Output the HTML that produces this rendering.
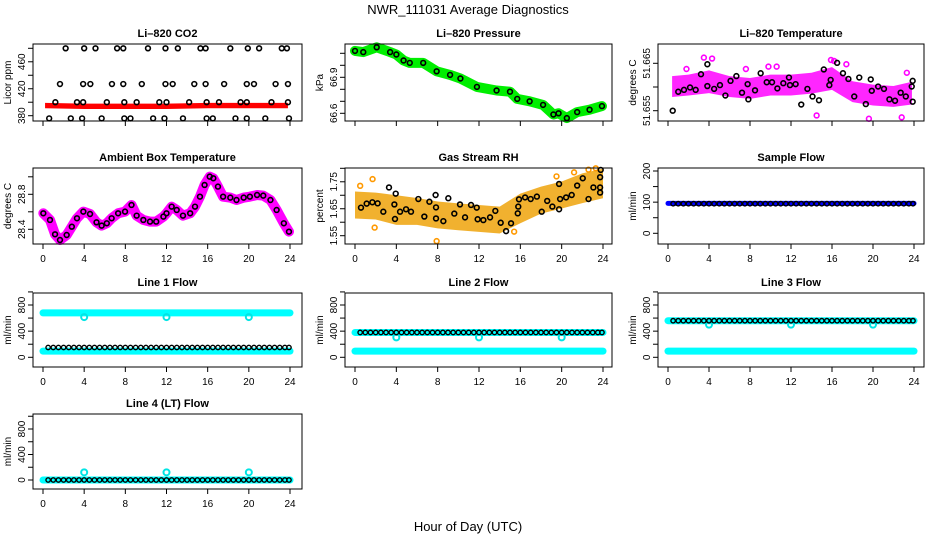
<!DOCTYPE html>
<html><head><meta charset="utf-8"><style>
body{margin:0;background:#fff;}
svg{display:block;font-family:"Liberation Sans",sans-serif;}
</style></head><body>
<svg id="chart" width="936" height="540" viewBox="0 0 936 540" xmlns="http://www.w3.org/2000/svg">
<text x="468" y="14" text-anchor="middle" font-size="13">NWR_111031  Average Diagnostics</text>
<text x="468" y="531" text-anchor="middle" font-size="13">Hour of Day (UTC)</text>
</svg>
<script>
// ---- data ----
const xTicks = [0,4,8,12,16,20,24];
const co2Hours480 = [2.2,4.0,5.1,7.2,7.8,10.2,11.9,13.1,15.3,15.8,18.2,19.9,21.0,23.2,23.7];
const co2Hours427 = [1.65,3.9,4.6,6.7,7.8,9.6,11.9,12.6,14.7,15.8,17.6,19.8,20.5,22.6,23.8];
const co2Hours400 = [1.2,3.3,3.9,6.2,7.9,9.1,11.3,12.0,14.2,15.9,17.1,19.2,19.8,22.2,23.8];
const co2Hours376 = [0.6,2.7,3.8,5.7,7.9,8.5,10.7,11.8,13.6,15.9,16.5,18.7,19.8,21.6,23.9];
const co2Levels = [480,427,400,376];
const co2RedHours = [0.2,4,8,12,16,20,23.8];
const co2RedLow = [391,390,390,390,391,391,391];
const co2RedHigh = [399,398,398,398,399,399,399];

const presHours = [0,0.8,2.1,3.4,4.0,4.7,5.3,6.6,7.9,9.2,10.2,11.8,13.7,15.0,15.7,16.9,18.2,19.2,19.7,20.5,21.5,22.7,23.9];
const presVals = [67.12,67.11,67.15,67.11,67.09,67.04,67.02,67.02,66.95,66.92,66.89,66.82,66.79,66.78,66.72,66.70,66.67,66.59,66.60,66.56,66.61,66.63,66.66];

const tempBandHours = [0.4,2,4,6,8,10,12,14,16,18,20,22,23.8];
const tempBandMid = [51.6601,51.6604,51.6611,51.6601,51.6597,51.6604,51.6604,51.6608,51.6618,51.6590,51.6583,51.6580,51.6587];
const tempBandHalf = [0.0022,0.0022,0.0024,0.0022,0.0022,0.0022,0.0022,0.0022,0.0024,0.0022,0.0022,0.0022,0.0024];
const tempOutHours = [1.8,3.5,4.3,7.6,9.8,10.6,14.5,15.9,16.2,17.4,19.6,22.8,23.3];
const tempOutVals = [51.6638,51.6662,51.6660,51.6638,51.6643,51.6643,51.6540,51.6657,51.6655,51.6648,51.6533,51.6536,51.6630];
const tempHours = [0.46,1.0,1.56,2.15,2.7,3.22,3.84,3.84,4.5,5.07,5.6,6.1,6.67,7.22,7.77,7.84,8.49,9.04,9.63,10.15,10.67,11.25,11.8,11.9,12.45,13.0,13.6,14.1,14.73,15.2,15.74,15.87,16.5,17.07,17.6,18.17,18.66,19.3,19.78,19.88,20.5,21.07,21.6,22.15,22.7,23.2,23.78,23.87,23.87];
const tempVals = [51.6550,51.6590,51.6594,51.6599,51.6594,51.6627,51.6648,51.6602,51.6596,51.6604,51.6582,51.6613,51.6623,51.6588,51.6606,51.6574,51.6593,51.6629,51.6610,51.6610,51.6597,51.6608,51.6620,51.6604,51.6606,51.6563,51.6596,51.6580,51.6572,51.6637,51.6604,51.6615,51.6651,51.6629,51.6617,51.6580,51.6620,51.6564,51.6616,51.6592,51.6601,51.6596,51.6574,51.6571,51.6588,51.6580,51.6601,51.6613,51.6569];

const ambHours = [0.03,0.68,1.17,1.65,2.3,2.8,3.3,3.92,4.57,5.2,5.7,6.2,6.67,7.3,7.97,8.6,9.1,9.75,10.4,11.0,11.7,12.0,12.5,12.99,13.6,14.3,14.77,15.25,15.7,16.2,16.55,17.0,17.5,18.2,18.8,19.5,20.1,20.8,21.4,22.1,22.7,23.4,23.9];
const ambVals = [28.583,28.507,28.343,28.278,28.335,28.43,28.526,28.602,28.575,28.48,28.442,28.469,28.526,28.583,28.602,28.678,28.556,28.507,28.488,28.488,28.545,28.583,28.659,28.621,28.556,28.583,28.659,28.773,28.907,29.002,28.983,28.888,28.773,28.762,28.735,28.762,28.773,28.792,28.785,28.735,28.621,28.469,28.373];

const rhBandHours = [0,2,4,6,8,10,12,14,16,18,20,22,24];
const rhBandMid = [1.664,1.660,1.645,1.640,1.627,1.620,1.614,1.608,1.651,1.682,1.701,1.726,1.744];
const rhBandHalf = [0.05,0.05,0.055,0.05,0.05,0.05,0.05,0.05,0.055,0.05,0.05,0.055,0.055];
const rhOutHours = [0.5,1.7,1.9,7.9,15.4,19.5,21.2,22.6,23.3];
const rhOutVals = [1.735,1.760,1.580,1.530,1.565,1.770,1.785,1.795,1.800];
const rhHours = [0.58,1.13,1.68,2.19,2.74,3.29,3.81,3.87,3.94,4.36,4.94,5.42,6.13,6.71,7.2,7.8,7.84,7.84,8.55,9.03,9.61,10.16,10.65,11.23,11.78,11.87,12.42,13.07,13.58,14.1,14.62,15.1,15.75,15.8,15.87,16.46,17.0,17.6,18.07,18.6,19.1,19.75,19.75,19.85,20.43,20.97,21.5,22.04,22.6,23.07,23.72,23.72,23.72,23.78];
const rhVals = [1.654,1.669,1.674,1.670,1.639,1.729,1.666,1.612,1.706,1.639,1.648,1.639,1.686,1.621,1.676,1.701,1.655,1.614,1.604,1.689,1.632,1.666,1.618,1.664,1.654,1.611,1.608,1.618,1.642,1.598,1.567,1.596,1.633,1.658,1.685,1.692,1.686,1.695,1.639,1.679,1.658,1.648,1.742,1.686,1.692,1.701,1.736,1.763,1.686,1.729,1.729,1.767,1.710,1.794];

const hh = [0.5,1,1.5,2,2.5,3,3.5,4,4.5,5,5.5,6,6.5,7,7.5,8,8.5,9,9.5,10,10.5,11,11.5,12,12.5,13,13.5,14,14.5,15,15.5,16,16.5,17,17.5,18,18.5,19,19.5,20,20.5,21,21.5,22,22.5,23,23.5,23.9];
const sampleBlueVal = 96;
const sampleBlackVal = 95;
const line1Cyan = [680,95];
const line1Black = 150;
const line2Cyan = [380,95];
const line2Black = 380;
const line3Cyan = [560,95];
const line3Black = 560;
const line4Cyan = [0];
const line4Black = 0;
const dipHours = [4,12,20];
const line1Dip = 615, line2Dip = 305, line3Dip = 500, line4Dip = 120;

// ---- geometry ----
const cols=[{l:33,r:302,x0:43,x24:290},{l:345,r:612,x0:355,x24:603},{l:658,r:924,x0:668,x24:914}];
const rows=[{t:44,b:121},{t:168,b:244},{t:293,b:367},{t:414,b:489}];
const svg=document.getElementById('chart');
const NS='http://www.w3.org/2000/svg';
function mk(tag,attrs,parent){const e=document.createElementNS(NS,tag);for(const k in attrs)e.setAttribute(k,attrs[k]);(parent||svg).appendChild(e);return e;}

function panel(name,title,ytitle,c,r,v1,p1,v2,p2,ticks,labels,showX){
  const C=cols[c],R=rows[r];
  const g=mk('g',{});
  
  
  const xs=h=>C.x0+(C.x24-C.x0)*h/24;
  const ys=v=>p1+(p2-p1)*(v-v1)/(v2-v1);
  const plot=mk('g',{},g);
  
  
  const t=mk('text',{x:(C.l+C.r)/2,y:R.t-7,'text-anchor':'middle','font-size':'11','font-weight':'bold'},g);
  t.textContent=title;
  
  
  const yt=mk('text',{transform:`translate(${C.l-22},${(R.t+R.b)/2}) rotate(-90)`,'text-anchor':'middle','font-size':'10'},g);
  yt.textContent=ytitle;
  
  
  const ax=mk('g',{stroke:'#000','stroke-width':1},g);
  
  
  ticks.forEach(v=>{const y=ys(v);mk('line',{x1:C.l-5,x2:C.l,y1:y,y2:y},ax);});
  mk('line',{x1:C.l,x2:C.l,y1:R.t,y2:R.b},ax);
  labels.forEach(v=>{const y=ys(v);const tx=mk('text',{transform:`translate(${C.l-8},${y}) rotate(-90)`,'text-anchor':'middle','font-size':'10',stroke:'none'},g);tx.textContent=String(v);
    
    });
  xTicks.forEach(h=>{const x=xs(h);mk('line',{x1:x,x2:x,y1:R.b,y2:R.b+5},ax);
    if(showX){const tx=mk('text',{x:x,y:R.b+18,'text-anchor':'middle','font-size':'10'},g);tx.textContent=String(h);
      
      }});
  const box=mk('rect',{x:C.l,y:R.t,width:C.r-C.l,height:R.b-R.t,fill:'none',stroke:'#000','stroke-width':1},g);
  
  
  return {g:plot,xs,ys};
}
function circles(P,hs,vs,color,name,r,sw){
  const g=mk('g',{fill:'none',stroke:color,'stroke-width':sw||1.6},P.g);
  
  
  hs.forEach((h,i)=>{const v=Array.isArray(vs)?vs[i]:vs;mk('circle',{cx:P.xs(h),cy:P.ys(v),r:r||2.4},g);});
}
function band(P,hs,mid,half,color,name,op){
  let pts=hs.map((h,i)=>P.xs(h)+','+P.ys(mid[i]+half[i]));
  pts=pts.concat(hs.slice().reverse().map((h,j)=>{const i=hs.length-1-j;return P.xs(h)+','+P.ys(mid[i]-half[i]);}));
  const p=mk('polygon',{points:pts.join(' '),fill:color,'fill-opacity':op||1},P.g);
  
  
}
function thick(P,hs,vs,color,w,name){
  const pts=hs.map((h,i)=>P.xs(h)+','+P.ys(Array.isArray(vs)?vs[i]:vs)).join(' ');
  const p=mk('polyline',{points:pts,fill:'none',stroke:color,'stroke-width':w,'stroke-linejoin':'round','stroke-linecap':'round'},P.g);
  
  
}

// CO2
let P=panel('co2','Li\u2013820 CO2','Licor ppm',0,0,380,115.7,480,48.3,[380,400,420,440,460,480],[380,420,460],false);
band(P,co2RedHours,co2RedLow.map((v,i)=>(v+co2RedHigh[i])/2),co2RedLow.map((v,i)=>(co2RedHigh[i]-v)/2),'#ff0000','co2-red-series');
[co2Hours480,co2Hours427,co2Hours400,co2Hours376].forEach((hs,i)=>circles(P,hs,co2Levels[i],'#000','co2-black-points-'+co2Levels[i]));

// Pressure
P=panel('pressure','Li\u2013820 Pressure','kPa',1,0,66.6,113.3,67.1,53.3,[66.6,66.7,66.8,66.9,67.0,67.1],[66.6,66.9],false);
thick(P,presHours,presVals,'#00ee00',10,'pressure-green-series');
circles(P,presHours,presVals,'#000','pressure-black-points');

// Temperature
P=panel('temp','Li\u2013820 Temperature','degrees C',2,0,51.655,110.7,51.665,63.3,[51.655,51.66,51.665],[51.655,51.665],false);
band(P,tempBandHours,tempBandMid,tempBandHalf,'#ff00ff','temp-magenta-series',0.85);
circles(P,tempOutHours,tempOutVals,'#ff00ff','temp-magenta-outliers');
circles(P,tempHours,tempVals,'#000','temp-black-points');

// Ambient
P=panel('ambient','Ambient Box Temperature','degrees C',0,1,28.4,229.3,28.8,194.3,[28.4,28.6,28.8,29.0],[28.4,28.8],true);
thick(P,ambHours,ambVals,'#ff00ff',10,'ambient-magenta-series');
circles(P,ambHours,ambVals,'#000','ambient-black-points');

// RH
P=panel('rh','Gas Stream RH','percent',1,1,1.55,235.7,1.80,168.3,[1.55,1.6,1.65,1.7,1.75,1.8],[1.55,1.65,1.75],true);
band(P,rhBandHours,rhBandMid,rhBandHalf,'#f0a818','rh-orange-series',0.9);
circles(P,rhOutHours,rhOutVals,'#ff9900','rh-orange-outliers');
circles(P,rhHours,rhVals,'#000','rh-black-points');

// Sample flow
P=panel('sample-flow','Sample Flow','ml/min',2,1,0,233.3,200,171,[0,50,100,150,200],[0,100,200],true);
thick(P,[0,24],sampleBlueVal,'#0000ff',5,'sample-flow-blue-series');
circles(P,hh,sampleBlackVal,'#000','sample-flow-black-points',2.2,1.4);

// Line flows
const fticks=[0,200,400,600,800,1000], flabels=[0,400,800];
function flow(name,title,c,r,z,e,cy,bl,dip){
  const P=panel(name,title,'ml/min',c,r,0,z,800,e,fticks,flabels,true);
  cy.forEach((v,i)=>thick(P,[0,24],v,'#00ffff',7,name+'-cyan-series-'+i));
  circles(P,dipHours,dip,'#00e5e5',name+'-cyan-dips',3,2);
  circles(P,hh,bl,'#000',name+'-black-points',2.2,1.4);
}
flow('line1-flow','Line 1 Flow',0,2,357.3,305,line1Cyan,line1Black,line1Dip);
flow('line2-flow','Line 2 Flow',1,2,357.3,305,line2Cyan,line2Black,line2Dip);
flow('line3-flow','Line 3 Flow',2,2,357.3,305,line3Cyan,line3Black,line3Dip);
flow('line4-flow','Line 4 (LT) Flow',0,3,480,429,line4Cyan,line4Black,line4Dip);
</script>
</body></html>
